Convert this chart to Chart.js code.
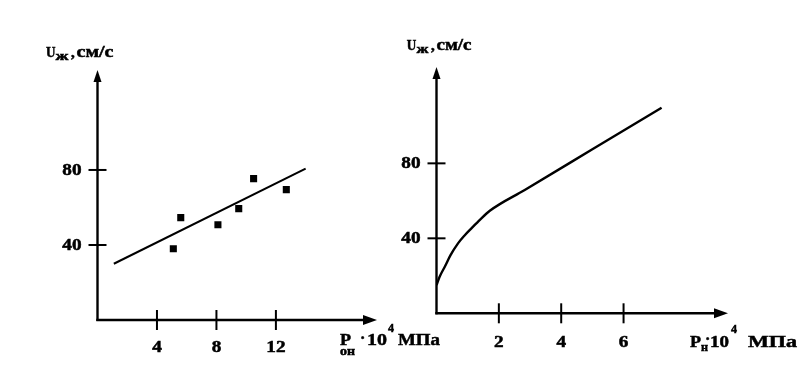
<!DOCTYPE html>
<html>
<head>
<meta charset="utf-8">
<script src="https://cdn.jsdelivr.net/npm/chart.js@4/dist/chart.umd.min.js"></script>
<style>
html,body{margin:0;padding:0;background:#fff;}
#wrap{position:relative;width:808px;height:381px;background:#fff;}
canvas{position:absolute;left:0;top:0;}
</style>
</head>
<body>
<div id="wrap">
<canvas id="c1" width="808" height="381"></canvas>
<canvas id="c2" width="808" height="381"></canvas>
</div>
<script>
// ---- Left chart data ----
const leftXTicks = [4, 8, 12];
const leftYTicks = [40, 80];
const leftPointsX = [5.1, 5.6, 8.1, 9.5, 10.5, 12.7];
const leftPointsY = [38.0, 54.6, 50.8, 59.4, 75.4, 69.5];
const leftFitX = [1.1, 14.0];
const leftFitY = [30.0, 80.7];

// ---- Right chart data ----
const rightXTicks = [2, 4, 6];
const rightYTicks = [40, 80];
const rightCurveX = [0, 0.1, 0.27, 0.45, 0.69, 0.9, 1.12, 1.4, 1.71, 2.83, 5.0, 7.22];
const rightCurveY = [15.0, 19.5, 25.0, 31.0, 37.3, 41.5, 45.3, 50.0, 54.7, 65.8, 87.5, 109.7];

const FONT = '"Liberation Serif", "Times New Roman", Times, serif';

function txt(ctx, s, x, y, size, opts) {
  opts = opts || {};
  ctx.save();
  ctx.font = 'bold ' + size + 'px ' + FONT;
  const w = ctx.measureText(s).width;
  const sx = opts.w ? opts.w / w : (opts.sx || 1);
  const tw = w * sx;
  const left = opts.align === 'center' ? x - tw / 2 : (opts.align === 'right' ? x - tw : x);
  ctx.translate(left, y);
  ctx.scale(sx, 1);
  ctx.fillStyle = '#000';
  ctx.strokeStyle = '#000';
  ctx.lineWidth = 0.5;
  ctx.textAlign = 'left';
  ctx.textBaseline = 'alphabetic';
  ctx.fillText(s, 0, 0);
  ctx.strokeText(s, 0, 0);
  ctx.restore();
}

function makeAxesPlugin(cfg) {
  return {
    id: 'arrowAxes',
    afterDraw(chart) {
      const ctx = chart.ctx;
      const xs = chart.scales.x, ys = chart.scales.y;
      const x0 = xs.getPixelForValue(0), y0 = ys.getPixelForValue(0);
      const xEnd = chart.chartArea.right, yEnd = chart.chartArea.top;
      ctx.save();
      ctx.strokeStyle = '#000';
      ctx.fillStyle = '#000';
      ctx.lineWidth = 2.4;
      ctx.lineCap = 'butt';
      ctx.beginPath();
      ctx.moveTo(x0, y0 + 1);
      ctx.lineTo(x0, yEnd + 10);
      ctx.stroke();
      ctx.beginPath();
      ctx.moveTo(x0, yEnd);
      ctx.lineTo(x0 - 4, yEnd + 12);
      ctx.lineTo(x0 + 4, yEnd + 12);
      ctx.closePath();
      ctx.fill();
      ctx.beginPath();
      ctx.moveTo(x0 - 1.2, y0);
      ctx.lineTo(xEnd - 10, y0);
      ctx.stroke();
      ctx.beginPath();
      ctx.moveTo(xEnd, y0);
      ctx.lineTo(xEnd - 14, y0 - 5);
      ctx.lineTo(xEnd - 14, y0 + 5);
      ctx.closePath();
      ctx.fill();
      ctx.lineWidth = 2;
      cfg.xTicks.forEach(v => {
        const px = xs.getPixelForValue(v);
        ctx.beginPath();
        ctx.moveTo(px, y0 - 10);
        ctx.lineTo(px, y0 + 10);
        ctx.stroke();
        txt(ctx, String(v), px, y0 + cfg.xLabelOffset, 16, {align: 'center', sx: 1.2});
      });
      cfg.yTicks.forEach(v => {
        const py = ys.getPixelForValue(v);
        ctx.beginPath();
        ctx.moveTo(x0 - 9, py);
        ctx.lineTo(x0 + 9, py);
        ctx.stroke();
        txt(ctx, String(v), x0 - 16, py + 5, 16, {align: 'right', sx: 1.2});
      });
      ctx.restore();
      cfg.labels(ctx);
    }
  };
}

function toPts(xa, ya) { return xa.map((x, i) => ({x: x, y: ya[i]})); }

function build() {
  const common = {
    responsive: false,
    animation: false,
    devicePixelRatio: 1,
    plugins: {legend: {display: false}, tooltip: {enabled: false}, title: {display: false}},
    events: []
  };

  new Chart(document.getElementById('c1'), {
    type: 'scatter',
    data: {
      datasets: [
        {data: toPts(leftPointsX, leftPointsY), pointStyle: 'rect', pointRadius: 5,
         backgroundColor: '#000', borderColor: '#000', borderWidth: 0, showLine: false},
        {data: toPts(leftFitX, leftFitY), showLine: true, borderColor: '#000', borderWidth: 2,
         pointRadius: 0, fill: false}
      ]
    },
    options: Object.assign({}, common, {
      layout: {padding: {left: 97.5, right: 431, top: 70, bottom: 61}},
      scales: {
        x: {type: 'linear', display: false, min: 0, max: 18.8},
        y: {type: 'linear', display: false, min: 0, max: 133.3}
      }
    }),
    plugins: [makeAxesPlugin({
      xTicks: leftXTicks, yTicks: leftYTicks, xLabelOffset: 32,
      labels(ctx) {
        txt(ctx, 'U', 46, 57, 14, {w: 9.5});
        txt(ctx, 'ж', 55.5, 60, 12, {w: 13});
        txt(ctx, ',', 71, 57, 15);
        txt(ctx, 'см/с', 76.5, 57, 16, {w: 37});
        txt(ctx, 'P', 340, 345, 17, {w: 11});
        txt(ctx, 'он', 340, 355, 12, {w: 15});
        txt(ctx, '·', 360, 343, 16);
        txt(ctx, '10', 367, 345, 17, {w: 20});
        txt(ctx, '4', 388, 332, 12);
        txt(ctx, 'МПа', 398, 345, 17, {w: 42});
      }
    })]
  });

  new Chart(document.getElementById('c2'), {
    type: 'scatter',
    data: {
      datasets: [
        {data: toPts(rightCurveX, rightCurveY), showLine: true, borderColor: '#000', borderWidth: 2.4,
         pointRadius: 0, fill: false, cubicInterpolationMode: 'monotone'}
      ]
    },
    options: Object.assign({}, common, {
      layout: {padding: {left: 436.5, right: 80, top: 67, bottom: 67.7}},
      scales: {
        x: {type: 'linear', display: false, min: 0, max: 9.35},
        y: {type: 'linear', display: false, min: 0, max: 131.4}
      }
    }),
    plugins: [makeAxesPlugin({
      xTicks: rightXTicks, yTicks: rightYTicks, xLabelOffset: 34,
      labels(ctx) {
        txt(ctx, 'U', 406.7, 50, 14, {w: 9.5});
        txt(ctx, 'ж', 416.5, 53, 12, {w: 12});
        txt(ctx, ',', 431, 50, 15);
        txt(ctx, 'см/с', 436.5, 50, 16, {w: 35});
        txt(ctx, 'P', 690, 347, 17, {w: 11});
        txt(ctx, 'н', 701, 351, 12, {w: 7});
        txt(ctx, '·', 705, 344, 16);
        txt(ctx, '10', 710, 347, 17, {w: 19});
        txt(ctx, '4', 731, 333, 12);
        txt(ctx, 'МПа', 748, 347, 17, {w: 49});
      }
    })]
  });
}

let built = false;
function go() { if (!built) { built = true; build(); } }
if (document.fonts && document.fonts.load) {
  Promise.all([
    document.fonts.load('bold 16px "Liberation Serif"'),
    document.fonts.load('bold 12px "Liberation Serif"')
  ]).then(go, go);
  setTimeout(go, 1500);
} else {
  go();
}
</script>
</body>
</html>
